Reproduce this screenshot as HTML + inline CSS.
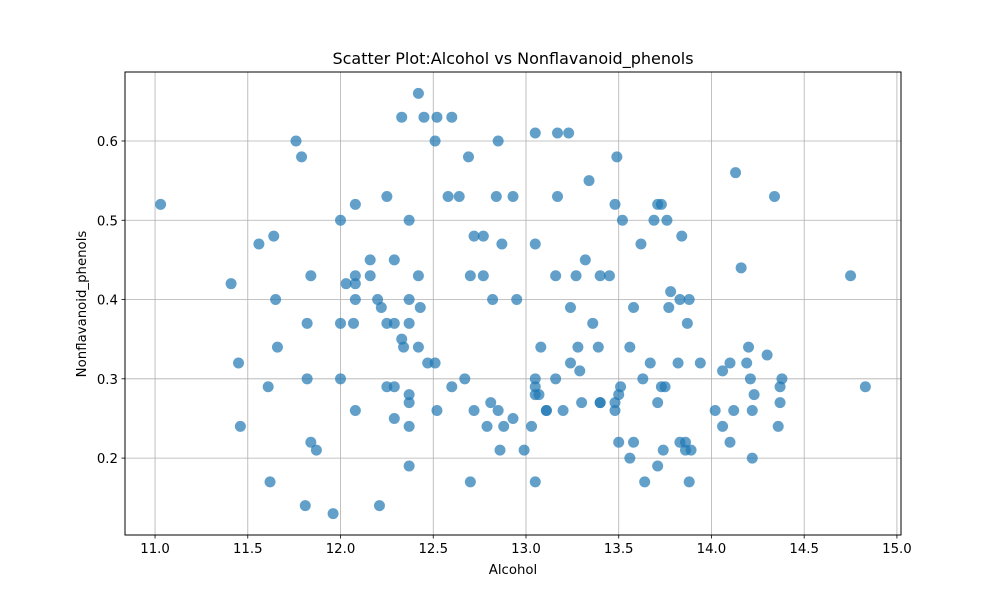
<!DOCTYPE html>
<html><head><meta charset="utf-8"><style>
body{margin:0;background:#fff;}
svg text{font-family:"DejaVu Sans","Liberation Sans",sans-serif;fill:#000;}
</style></head><body>
<svg id="chart" width="1000" height="600" xmlns="http://www.w3.org/2000/svg">
<rect width="1000" height="600" fill="#fff"/>
<g id="grid"></g>
<g id="xticks"></g>
<g id="yticks"></g>
<g id="points"></g>
<rect x="125" y="72" width="776" height="463" fill="none" stroke="#000" stroke-width="1"/>
<text x="513" y="64" text-anchor="middle" font-size="16">Scatter Plot:Alcohol vs Nonflavanoid_phenols</text>
<text x="513" y="574" text-anchor="middle" font-size="13.3">Alcohol</text>
<text transform="translate(86,304) rotate(-90)" text-anchor="middle" font-size="13.3">Nonflavanoid_phenols</text>
</svg>
<script>
const alcohol=[11.03,11.41,11.45,11.46,11.56,11.64,11.65,11.66,11.61,11.62,11.76,11.79,11.84,11.82,11.82,11.84,11.87,11.81,11.96,12.00,12.00,12.00,12.03,12.08,12.08,12.08,12.08,12.07,12.08,12.16,12.16,12.20,12.22,12.21,12.25,12.25,12.25,12.29,12.29,12.29,12.29,12.33,12.33,12.34,12.37,12.37,12.37,12.37,12.37,12.37,12.37,12.42,12.42,12.43,12.42,12.45,12.47,12.51,12.52,12.51,12.52,12.58,12.60,12.60,12.64,12.67,12.69,12.70,12.70,12.72,12.72,12.77,12.77,12.79,12.81,12.82,12.84,12.85,12.85,12.86,12.87,12.88,12.93,12.93,12.95,12.99,13.03,13.05,13.05,13.05,13.05,13.05,13.07,13.05,13.08,13.11,13.11,13.16,13.16,13.17,13.17,13.20,13.23,13.24,13.24,13.27,13.28,13.29,13.30,13.32,13.34,13.36,13.39,13.40,13.40,13.40,13.45,13.48,13.48,13.48,13.49,13.50,13.50,13.51,13.52,13.56,13.56,13.58,13.58,13.62,13.63,13.64,13.67,13.69,13.71,13.71,13.71,13.73,13.73,13.74,13.75,13.76,13.77,13.78,13.83,13.82,13.83,13.84,13.86,13.86,13.87,13.88,13.88,13.89,13.94,14.02,14.06,14.06,14.10,14.10,14.12,14.13,14.16,14.19,14.20,14.21,14.22,14.22,14.23,14.30,14.34,14.36,14.37,14.37,14.38,14.75,14.83];
const nonflav=[0.52,0.42,0.32,0.24,0.47,0.48,0.40,0.34,0.29,0.17,0.60,0.58,0.43,0.37,0.30,0.22,0.21,0.14,0.13,0.50,0.37,0.30,0.42,0.52,0.43,0.42,0.40,0.37,0.26,0.45,0.43,0.40,0.39,0.14,0.53,0.37,0.29,0.45,0.37,0.29,0.25,0.63,0.35,0.34,0.50,0.40,0.37,0.28,0.27,0.24,0.19,0.66,0.43,0.39,0.34,0.63,0.32,0.60,0.63,0.32,0.26,0.53,0.63,0.29,0.53,0.30,0.58,0.43,0.17,0.48,0.26,0.48,0.43,0.24,0.27,0.40,0.53,0.60,0.26,0.21,0.47,0.24,0.53,0.25,0.40,0.21,0.24,0.61,0.47,0.30,0.29,0.28,0.28,0.17,0.34,0.26,0.26,0.30,0.43,0.53,0.61,0.26,0.61,0.32,0.39,0.43,0.34,0.31,0.27,0.45,0.55,0.37,0.34,0.27,0.27,0.43,0.43,0.52,0.26,0.27,0.58,0.28,0.22,0.29,0.50,0.20,0.34,0.39,0.22,0.47,0.30,0.17,0.32,0.50,0.52,0.27,0.19,0.52,0.29,0.21,0.29,0.50,0.39,0.41,0.22,0.32,0.40,0.48,0.22,0.21,0.37,0.40,0.17,0.21,0.32,0.26,0.31,0.24,0.32,0.22,0.26,0.56,0.44,0.32,0.34,0.30,0.26,0.20,0.28,0.33,0.53,0.24,0.29,0.27,0.30,0.43,0.29];
const xTicks=[11.0,11.5,12.0,12.5,13.0,13.5,14.0,14.5,15.0];
const yTicks=[0.2,0.3,0.4,0.5,0.6];
const X0=125,X1=901,Y0=72,Y1=535;
const xMin=10.838,xMax=15.022,yMin=0.103,yMax=0.687;
function sx(v){return X0+(v-xMin)/(xMax-xMin)*(X1-X0);}
function sy(v){return Y1-(v-yMin)/(yMax-yMin)*(Y1-Y0);}
const NS="http://www.w3.org/2000/svg";
function mk(tag,attrs,parent){const e=document.createElementNS(NS,tag);for(const k in attrs)e.setAttribute(k,attrs[k]);parent.appendChild(e);return e;}
const grid=document.getElementById('grid'),xg=document.getElementById('xticks'),yg=document.getElementById('yticks'),pg=document.getElementById('points');
xTicks.forEach(t=>{const x=sx(t);
 const gl=mk('line',{x1:x,x2:x,y1:Y0,y2:Y1,stroke:'#b0b0b0','stroke-width':0.8},grid);
 
 
 const tk=mk('line',{x1:x,x2:x,y1:Y1,y2:Y1+3.5,stroke:'#000','stroke-width':0.8},xg);
 
 
 const tl=mk('text',{x:x,y:Y1+18,'text-anchor':'middle','font-size':13.3},xg);tl.textContent=t.toFixed(1);
 
 
});
yTicks.forEach(t=>{const y=sy(t);
 const gl=mk('line',{x1:X0,x2:X1,y1:y,y2:y,stroke:'#b0b0b0','stroke-width':0.8},grid);
 
 
 const tk=mk('line',{x1:X0-3.5,x2:X0,y1:y,y2:y,stroke:'#000','stroke-width':0.8},yg);
 
 
 const tl=mk('text',{x:X0-7,y:y+5,'text-anchor':'end','font-size':13.3},yg);tl.textContent=t.toFixed(1);
 
 
});
alcohol.forEach((a,i)=>{
 const c=mk('circle',{cx:sx(a),cy:sy(nonflav[i]),r:5.5,fill:'#1f77b4','fill-opacity':0.7},pg);
 
 
});
</script>
</body></html>
